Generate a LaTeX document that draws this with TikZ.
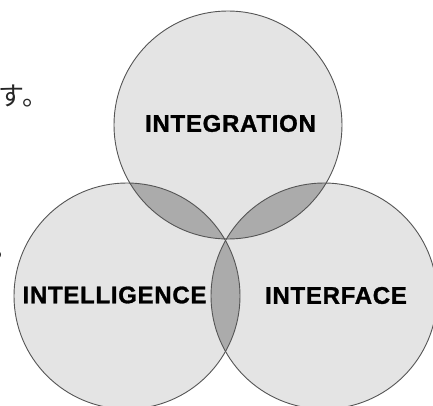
\documentclass[tikz,border=0pt]{standalone}
\usepackage{fontspec}
\setmainfont{Liberation Sans}
\newfontfamily\jpfont{Noto Sans CJK JP}
\newfontfamily\nimifont[LetterSpace=3.0, FakeBold=1.2]{Liberation Sans}
\definecolor{pohja}{HTML}{E4E4E4}
\definecolor{leikkaus}{HTML}{ABABAB}
\definecolor{reuna}{HTML}{555555}
\tikzset{nimi/.style={inner sep=0pt, font=\nimifont\bfseries\fontsize{24}{24}\selectfont}}

\begin{document}
\begin{tikzpicture}[x=1pt,y=-1pt]
				\useasboundingbox (0,0) rectangle (433,406);
				\clip (0,0) rectangle (433,406);
				\coordinate (yla) at (228,125);
				\coordinate (vasen) at (127,296);
				\coordinate (oikea) at (324,296);
				\fill[pohja] (yla) circle(114pt);
				\fill[pohja] (vasen) circle(113pt);
				\fill[pohja] (oikea) circle(113pt);
				\begin{scope}
					\clip (yla) circle(114pt);
					\fill[leikkaus] (vasen) circle(113pt);
					\fill[leikkaus] (oikea) circle(113pt);
				\end{scope}
				\begin{scope}
					\clip (vasen) circle(113pt);
					\fill[leikkaus] (oikea) circle(113pt);
				\end{scope}
				\draw[reuna, line width=0.9pt] (yla) circle(114pt);
				\draw[reuna, line width=0.9pt] (vasen) circle(113pt);
				\draw[reuna, line width=0.9pt] (oikea) circle(113pt);
				\node[nimi] (integration) at (230.5,123.5) {INTEGRATION};
				\node[nimi] (intelligence) at (114.5,295) {INTELLIGENCE};
				\node[nimi] (interface) at (336,295.5) {INTERFACE};
				\node[inner sep=0pt, anchor=base west, font=\jpfont\fontsize{26}{26}\selectfont, text=black!85] (su) at (-1.5,106) {す。};
				\node[inner sep=0pt, anchor=base west, font=\jpfont\fontsize{26}{26}\selectfont, text=black!85] (maru) at (-7.5,257) {。};
			\end{tikzpicture}
\end{document}
